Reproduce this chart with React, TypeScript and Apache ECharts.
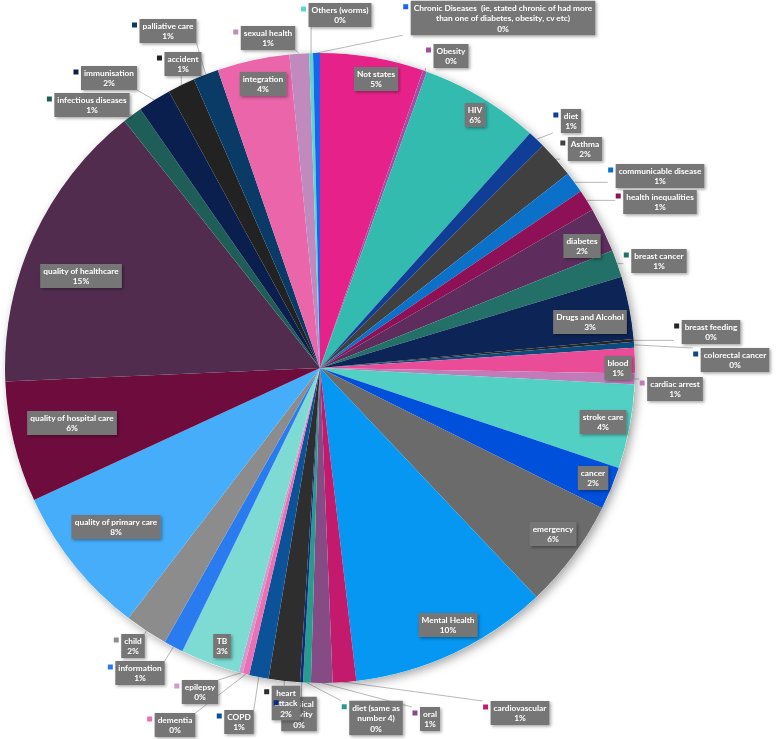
import React, { useEffect, useRef } from "react";
import * as echarts from "echarts";

const categories: string[] = [
  "Not states",
  "Obesity",
  "HIV",
  "diet",
  "Asthma",
  "communicable disease",
  "health inequalities",
  "diabetes",
  "breast cancer",
  "Drugs and Alcohol",
  "breast feeding",
  "colorectal cancer",
  "blood",
  "cardiac arrest",
  "stroke care",
  "cancer",
  "emergency",
  "Mental Health",
  "cardiovascular",
  "oral",
  "diet (same as number 4)",
  "physical activity",
  "heart attack",
  "COPD",
  "dementia",
  "epilepsy",
  "TB",
  "information",
  "child",
  "quality of primary care",
  "quality of hospital care",
  "quality of healthcare",
  "infectious diseases",
  "immunisation",
  "accident",
  "palliative care",
  "integration",
  "sexual health",
  "Others (worms)",
  "Chronic Diseases  (ie, stated chronic of had more than one of diabetes, obesity, cv etc)",
];

const values: number[] = [
  5.3, 0.2, 6.1, 0.9, 1.9, 1.1, 1.1, 2.3, 1.4, 3.2, 0.15, 0.3, 1.3, 0.55, 4.3, 2.2, 5.6,
  10.2, 1.2, 1.1, 0.4, 0.15, 1.6, 1.0, 0.33, 0.2, 3.05, 1.0, 2.2, 7.7, 6.2, 15.0, 1.0, 1.7,
  1.4, 1.3, 3.7, 1.0, 0.2, 0.35,
];

const colors: string[] = [
  "#E6228A", "#A24EA2", "#33BBB0", "#103E96", "#404040", "#0A70C8", "#8E1056", "#5E2D5E",
  "#237068", "#0C2456", "#262626", "#0D4A7E", "#EA4C98", "#C27BB9", "#52D0C4", "#0050DC",
  "#6B6B6B", "#0597F2", "#C41A6E", "#864B84", "#289A8E", "#0D2D80", "#2E2E2E", "#0B5298",
  "#EC6FB5", "#D09ACB", "#7DDBD3", "#2B7BF0", "#8C8C8C", "#45ADFA", "#6E0C3E", "#512C4F",
  "#1F5E58", "#0A1F4E", "#222222", "#0A3A66", "#EA65AA", "#C08ABE", "#5DD6CC", "#1565EE",
];

const insideLabels: string[] = [
  "Not states", "HIV", "diabetes", "Drugs and Alcohol", "blood", "stroke care", "cancer",
  "emergency", "Mental Health", "TB", "quality of primary care", "quality of hospital care",
  "quality of healthcare", "integration",
];

const labelWraps: Record<string, string> = {
  "Chronic Diseases  (ie, stated chronic of had more than one of diabetes, obesity, cv etc)":
    "Chronic Diseases  (ie, stated chronic of had more\nthan one of diabetes, obesity, cv etc)",
  "diet (same as number 4)": "diet (same as\nnumber 4)",
  "physical activity": "physical\nactivity",
  "heart attack": "heart\nattack",
};

// label box centres (layout, in px)
const labelCenters: Record<string, [number, number]> = {
  "Not states": [376, 79],
  Obesity: [451, 56],
  HIV: [475, 115],
  diet: [571, 121],
  Asthma: [585, 149],
  "communicable disease": [660, 176],
  "health inequalities": [660, 202],
  diabetes: [582, 246],
  "breast cancer": [659, 261],
  "Drugs and Alcohol": [590, 322],
  "breast feeding": [711, 332],
  "colorectal cancer": [735, 360],
  blood: [618, 368],
  "cardiac arrest": [675, 389],
  "stroke care": [603, 422],
  cancer: [593, 478],
  emergency: [553, 534],
  "Mental Health": [448, 625],
  cardiovascular: [520, 713],
  oral: [430, 719],
  "diet (same as number 4)": [376, 718],
  "physical activity": [299, 714],
  "heart attack": [286, 703],
  COPD: [239, 722],
  dementia: [175, 725],
  epilepsy: [200, 692],
  TB: [222, 646],
  information: [140, 673],
  child: [133, 646],
  "quality of primary care": [116, 527],
  "quality of hospital care": [72, 423],
  "quality of healthcare": [81, 276],
  "infectious diseases": [92, 105],
  immunisation: [109, 78],
  accident: [183, 64],
  "palliative care": [168, 31],
  integration: [263, 84],
  "sexual health": [268, 38],
  "Others (worms)": [340, 15],
  "Chronic Diseases  (ie, stated chronic of had more than one of diabetes, obesity, cv etc)": [503, 18],
};

const CX = 320;
const CY = 368;
const R = 315;

export default function App() {
  const ref = useRef<HTMLDivElement>(null);

  useEffect(() => {
    const chart = echarts.init(ref.current!, null, { renderer: "svg" });
    const total = values.reduce((a, b) => a + b, 0);
    const mids: number[] = [];
    let acc = 0;
    values.forEach((v) => {
      mids.push(((acc + v / 2) / total) * Math.PI * 2);
      acc += v;
    });
    const isInside = (n: string) => insideLabels.includes(n);
    const rects: Record<number, { x: number; y: number; w: number; h: number }> = {};

    const labelFont = {
      fontFamily: "Lato",
      fontSize: 8.3,
      fontWeight: "bold" as const,
      lineHeight: 10.5,
      color: "#ffffff",
    };

    const mainData = categories.map((name, i) => ({
      name,
      value: values[i],
      itemStyle: { color: colors[i] },
      label: { position: isInside(name) ? "inside" : "outside" },
      labelLine: { show: !isInside(name) },
    }));

    const keyData = categories.map((name, i) => ({
      name,
      value: values[i],
      label: isInside(name)
        ? { show: false }
        : {
            show: true,
            position: "outside",
            formatter: "{k|}",
            rich: { k: { width: 5, height: 5, backgroundColor: colors[i] } },
          },
    }));

    chart.setOption({
      animation: false,
      series: [
        {
          type: "pie",
          silent: true,
          center: [CX, CY],
          radius: R,
          label: { show: false },
          labelLine: { show: false },
          itemStyle: {
            color: "#ffffff",
            shadowBlur: 10,
            shadowColor: "rgba(0,0,0,0.35)",
            shadowOffsetX: 3,
            shadowOffsetY: 3,
          },
          data: [{ name: "", value: total }],
        },
        {
          type: "pie",
          silent: true,
          center: [CX, CY],
          radius: R,
          startAngle: 90,
          clockwise: true,
          avoidLabelOverlap: false,
          itemStyle: { borderWidth: 0 },
          label: {
            show: true,
            ...labelFont,
            align: "center",
            backgroundColor: "#767676",
            padding: [2, 3, 1, 3],
            shadowColor: "rgba(0,0,0,0.35)",
            shadowBlur: 3,
            shadowOffsetX: 1.5,
            shadowOffsetY: 1.5,
            formatter: (p: any) =>
              `${labelWraps[p.name] ?? p.name}\n${Math.round(p.percent)}%`,
          },
          labelLine: {
            show: true,
            lineStyle: { color: "#a6a6a6", width: 0.8 },
          },
          labelLayout: (params: any) => {
            const name = categories[params.dataIndex];
            const c = labelCenters[name];
            if (!c) return {};
            const w = params.labelRect.width;
            const h = params.labelRect.height;
            const rx = c[0] - w / 2;
            const ry = c[1] - h / 2;
            rects[params.dataIndex] = { x: rx, y: ry, w, h };
            const res: any = { x: c[0], y: c[1], align: "center", verticalAlign: "middle" };
            if (!isInside(name)) {
              const a = mids[params.dataIndex];
              const sx = CX + R * Math.sin(a);
              const sy = CY - R * Math.cos(a);
              const left = rx - 8;
              const ex = Math.min(Math.max(sx, left), rx + w);
              const ey = Math.min(Math.max(sy, ry), ry + h);
              res.labelLinePoints = [
                [sx, sy],
                [ex, ey],
                [ex, ey],
              ];
            }
            return res;
          },
          data: mainData,
        },
        {
          type: "pie",
          silent: true,
          center: [CX, CY],
          radius: R,
          startAngle: 90,
          clockwise: true,
          avoidLabelOverlap: false,
          itemStyle: { color: "rgba(0,0,0,0)" },
          labelLine: { show: false },
          labelLayout: (params: any) => {
            const r = rects[params.dataIndex];
            if (!r) return {};
            return { x: r.x - 5, y: r.y + 6, align: "center", verticalAlign: "middle" };
          },
          data: keyData,
        },
      ],
    });

    return () => chart.dispose();
  }, []);

  return (
    <div
      ref={ref}
      style={{ position: "fixed", left: 0, top: 0, width: 777, height: 739 }}
    />
  );
}
